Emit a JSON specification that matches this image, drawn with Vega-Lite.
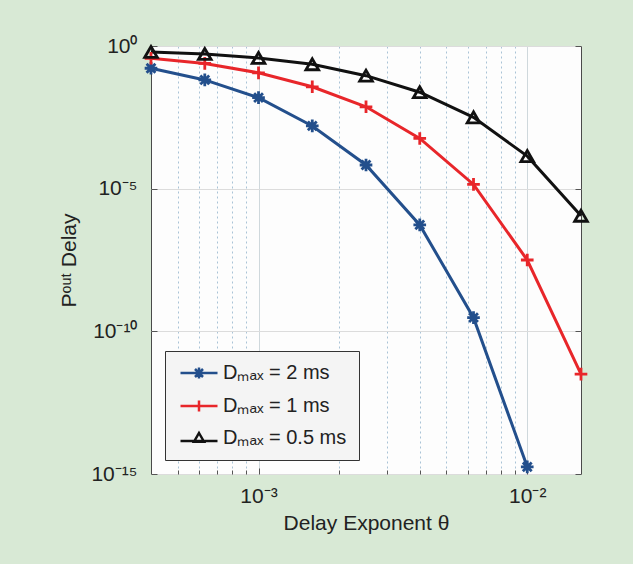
{
  "$schema": "https://vega.github.io/schema/vega-lite/v6.json",
  "width": 430,
  "height": 428,
  "autosize": "none",
  "padding": {"left": 151, "top": 46, "right": 52, "bottom": 90},
  "background": "#d8e9d5",
  "config": {
    "font": "Liberation Sans",
    "view": {"fill": "#fdfdfd", "stroke": "#4a4a4a", "strokeWidth": 1},
    "axis": {"domain": false, "tickColor": "#555", "labelColor": "#222", "titleColor": "#222", "labelFont": "Liberation Sans", "titleFont": "Liberation Sans", "titleFontWeight": "normal"},
    "legend": {"orient": "bottom-left", "offset": 14, "fillColor": "#f4f4f4", "strokeColor": "#333333", "padding": 12, "labelFontSize": 20, "labelFont": "Liberation Sans", "labelColor": "#222", "symbolSize": 100, "symbolStrokeWidth": 2.5, "symbolOffset": 12, "labelOffset": 14, "rowPadding": 11}
  },
  "data": {"values": [
    {"theta": 0.000398, "p": 0.166, "series": "Dₘₐₓ = 2 ms"},
    {"theta": 0.000631, "p": 0.0646, "series": "Dₘₐₓ = 2 ms"},
    {"theta": 0.001, "p": 0.0155, "series": "Dₘₐₓ = 2 ms"},
    {"theta": 0.001585, "p": 0.00158, "series": "Dₘₐₓ = 2 ms"},
    {"theta": 0.002512, "p": 0.0000676, "series": "Dₘₐₓ = 2 ms"},
    {"theta": 0.003981, "p": 5.37e-7, "series": "Dₘₐₓ = 2 ms"},
    {"theta": 0.00631, "p": 3.02e-10, "series": "Dₘₐₓ = 2 ms"},
    {"theta": 0.01, "p": 1.78e-15, "series": "Dₘₐₓ = 2 ms"},
    {"theta": 0.000398, "p": 0.372, "series": "Dₘₐₓ = 1 ms"},
    {"theta": 0.000631, "p": 0.245, "series": "Dₘₐₓ = 1 ms"},
    {"theta": 0.001, "p": 0.115, "series": "Dₘₐₓ = 1 ms"},
    {"theta": 0.001585, "p": 0.0372, "series": "Dₘₐₓ = 1 ms"},
    {"theta": 0.002512, "p": 0.00741, "series": "Dₘₐₓ = 1 ms"},
    {"theta": 0.003981, "p": 0.000575, "series": "Dₘₐₓ = 1 ms"},
    {"theta": 0.00631, "p": 0.0000141, "series": "Dₘₐₓ = 1 ms"},
    {"theta": 0.01, "p": 3.16e-8, "series": "Dₘₐₓ = 1 ms"},
    {"theta": 0.01585, "p": 3.16e-12, "series": "Dₘₐₓ = 1 ms"},
    {"theta": 0.000398, "p": 0.617, "series": "Dₘₐₓ = 0.5 ms"},
    {"theta": 0.000631, "p": 0.525, "series": "Dₘₐₓ = 0.5 ms"},
    {"theta": 0.001, "p": 0.38, "series": "Dₘₐₓ = 0.5 ms"},
    {"theta": 0.001585, "p": 0.229, "series": "Dₘₐₓ = 0.5 ms"},
    {"theta": 0.002512, "p": 0.0912, "series": "Dₘₐₓ = 0.5 ms"},
    {"theta": 0.003981, "p": 0.024, "series": "Dₘₐₓ = 0.5 ms"},
    {"theta": 0.00631, "p": 0.00316, "series": "Dₘₐₓ = 0.5 ms"},
    {"theta": 0.01, "p": 0.000138, "series": "Dₘₐₓ = 0.5 ms"},
    {"theta": 0.01585, "p": 0.00000112, "series": "Dₘₐₓ = 0.5 ms"}
  ]},
  "resolve": {"axis": {"x": "independent", "y": "independent"}, "scale": {"shape": "independent", "color": "independent"}, "legend": {"shape": "independent", "color": "independent"}},
  "layer": [
    {
      "mark": {"type": "line", "strokeWidth": 3, "clip": false},
      "encoding": {
        "x": {"field": "theta", "type": "quantitative",
          "scale": {"type": "log", "domain": [0.000398, 0.01585], "nice": false},
          "axis": {"orient": "bottom", "values": [0.001, 0.01], "grid": true, "gridColor": "#cfd8dc", "gridWidth": 1, "tickSize": -6, "labelPadding": 17, "labelFontSize": 21, "labelExpr": "datum.value < 0.005 ? '10⁻³' : '10⁻²'", "title": "Delay Exponent θ", "titleFontSize": 21, "titlePadding": 6}},
        "y": {"field": "p", "type": "quantitative",
          "scale": {"type": "log", "domain": [1e-15, 1], "nice": false},
          "axis": {"orient": "left", "values": [1e-15, 1e-10, 1e-5, 1], "grid": true, "gridColor": "#dcdcdc", "gridWidth": 1, "tickSize": -6, "labelPadding": 20, "labelFontSize": 21, "labelExpr": "datum.value > 0.5 ? '10⁰' : datum.value > 1e-6 ? '10⁻⁵' : datum.value > 1e-11 ? '10⁻¹⁰' : '10⁻¹⁵'", "title": "Pᵒᵘᵗ Delay", "titleFontSize": 21, "titlePadding": 11}},
        "color": {"field": "series", "type": "nominal", "legend": null,
          "scale": {"domain": ["Dₘₐₓ = 2 ms", "Dₘₐₓ = 1 ms", "Dₘₐₓ = 0.5 ms"], "range": ["#234f8c", "#e8262a", "#111111"]}}
      }
    },
    {
      "mark": {"type": "point", "filled": false, "strokeWidth": 2.8, "size": 160, "opacity": 1, "clip": false},
      "encoding": {
        "x": {"field": "theta", "type": "quantitative",
          "scale": {"type": "log", "domain": [0.000398, 0.01585], "nice": false},
          "axis": {"orient": "bottom", "values": [0.0005, 0.0006, 0.0007, 0.0008, 0.0009, 0.002, 0.003, 0.004, 0.005, 0.006, 0.007, 0.008, 0.009], "grid": true, "gridColor": "#a9c3d6", "gridDash": [2, 3], "gridWidth": 1, "tickSize": -4, "labels": false, "title": null}},
        "y": {"field": "p", "type": "quantitative",
          "scale": {"type": "log", "domain": [1e-15, 1], "nice": false},
          "axis": {"orient": "right", "values": [1e-15, 1e-10, 1e-5, 1], "grid": false, "tickSize": -6, "labels": false, "title": null}},
        "color": {"field": "series", "type": "nominal", "legend": null,
          "scale": {"domain": ["Dₘₐₓ = 2 ms", "Dₘₐₓ = 1 ms", "Dₘₐₓ = 0.5 ms"], "range": ["#234f8c", "#e8262a", "#111111"]}},
        "shape": {"field": "series", "type": "nominal", "legend": null,
          "scale": {"domain": ["Dₘₐₓ = 2 ms", "Dₘₐₓ = 1 ms", "Dₘₐₓ = 0.5 ms"], "range": ["M-1,0L1,0M0,-1L0,1M-0.7,-0.7L0.7,0.7M-0.7,0.7L0.7,-0.7", "M-1,0L1,0M0,-1L0,1", "triangle-up"]}}
      }
    },
    {
      "transform": [{"filter": "false"}],
      "mark": {"type": "point", "filled": false, "strokeWidth": 2.5, "size": 100, "opacity": 1},
      "encoding": {
        "x": {"field": "theta", "type": "quantitative", "scale": {"type": "log", "domain": [0.000398, 0.01585], "nice": false}, "axis": null},
        "y": {"field": "p", "type": "quantitative", "scale": {"type": "log", "domain": [1e-15, 1], "nice": false}, "axis": null},
        "color": {"field": "series", "type": "nominal", "title": null,
          "scale": {"domain": ["Dₘₐₓ = 2 ms", "Dₘₐₓ = 1 ms", "Dₘₐₓ = 0.5 ms"], "range": ["#234f8c", "#e8262a", "#111111"]}},
        "shape": {"field": "series", "type": "nominal", "title": null,
          "scale": {"domain": ["Dₘₐₓ = 2 ms", "Dₘₐₓ = 1 ms", "Dₘₐₓ = 0.5 ms"], "range": ["M-3.7,0L3.7,0M-1.1,0L1.1,0M0,-1.1L0,1.1M-0.8,-0.8L0.8,0.8M-0.8,0.8L0.8,-0.8", "M-3.7,0L3.7,0M0,-1.1L0,1.1", "M-3.7,0.6L3.7,0.6M0,-1L1,0.75L-1,0.75Z"]}}
      }
    }
  ]
}
